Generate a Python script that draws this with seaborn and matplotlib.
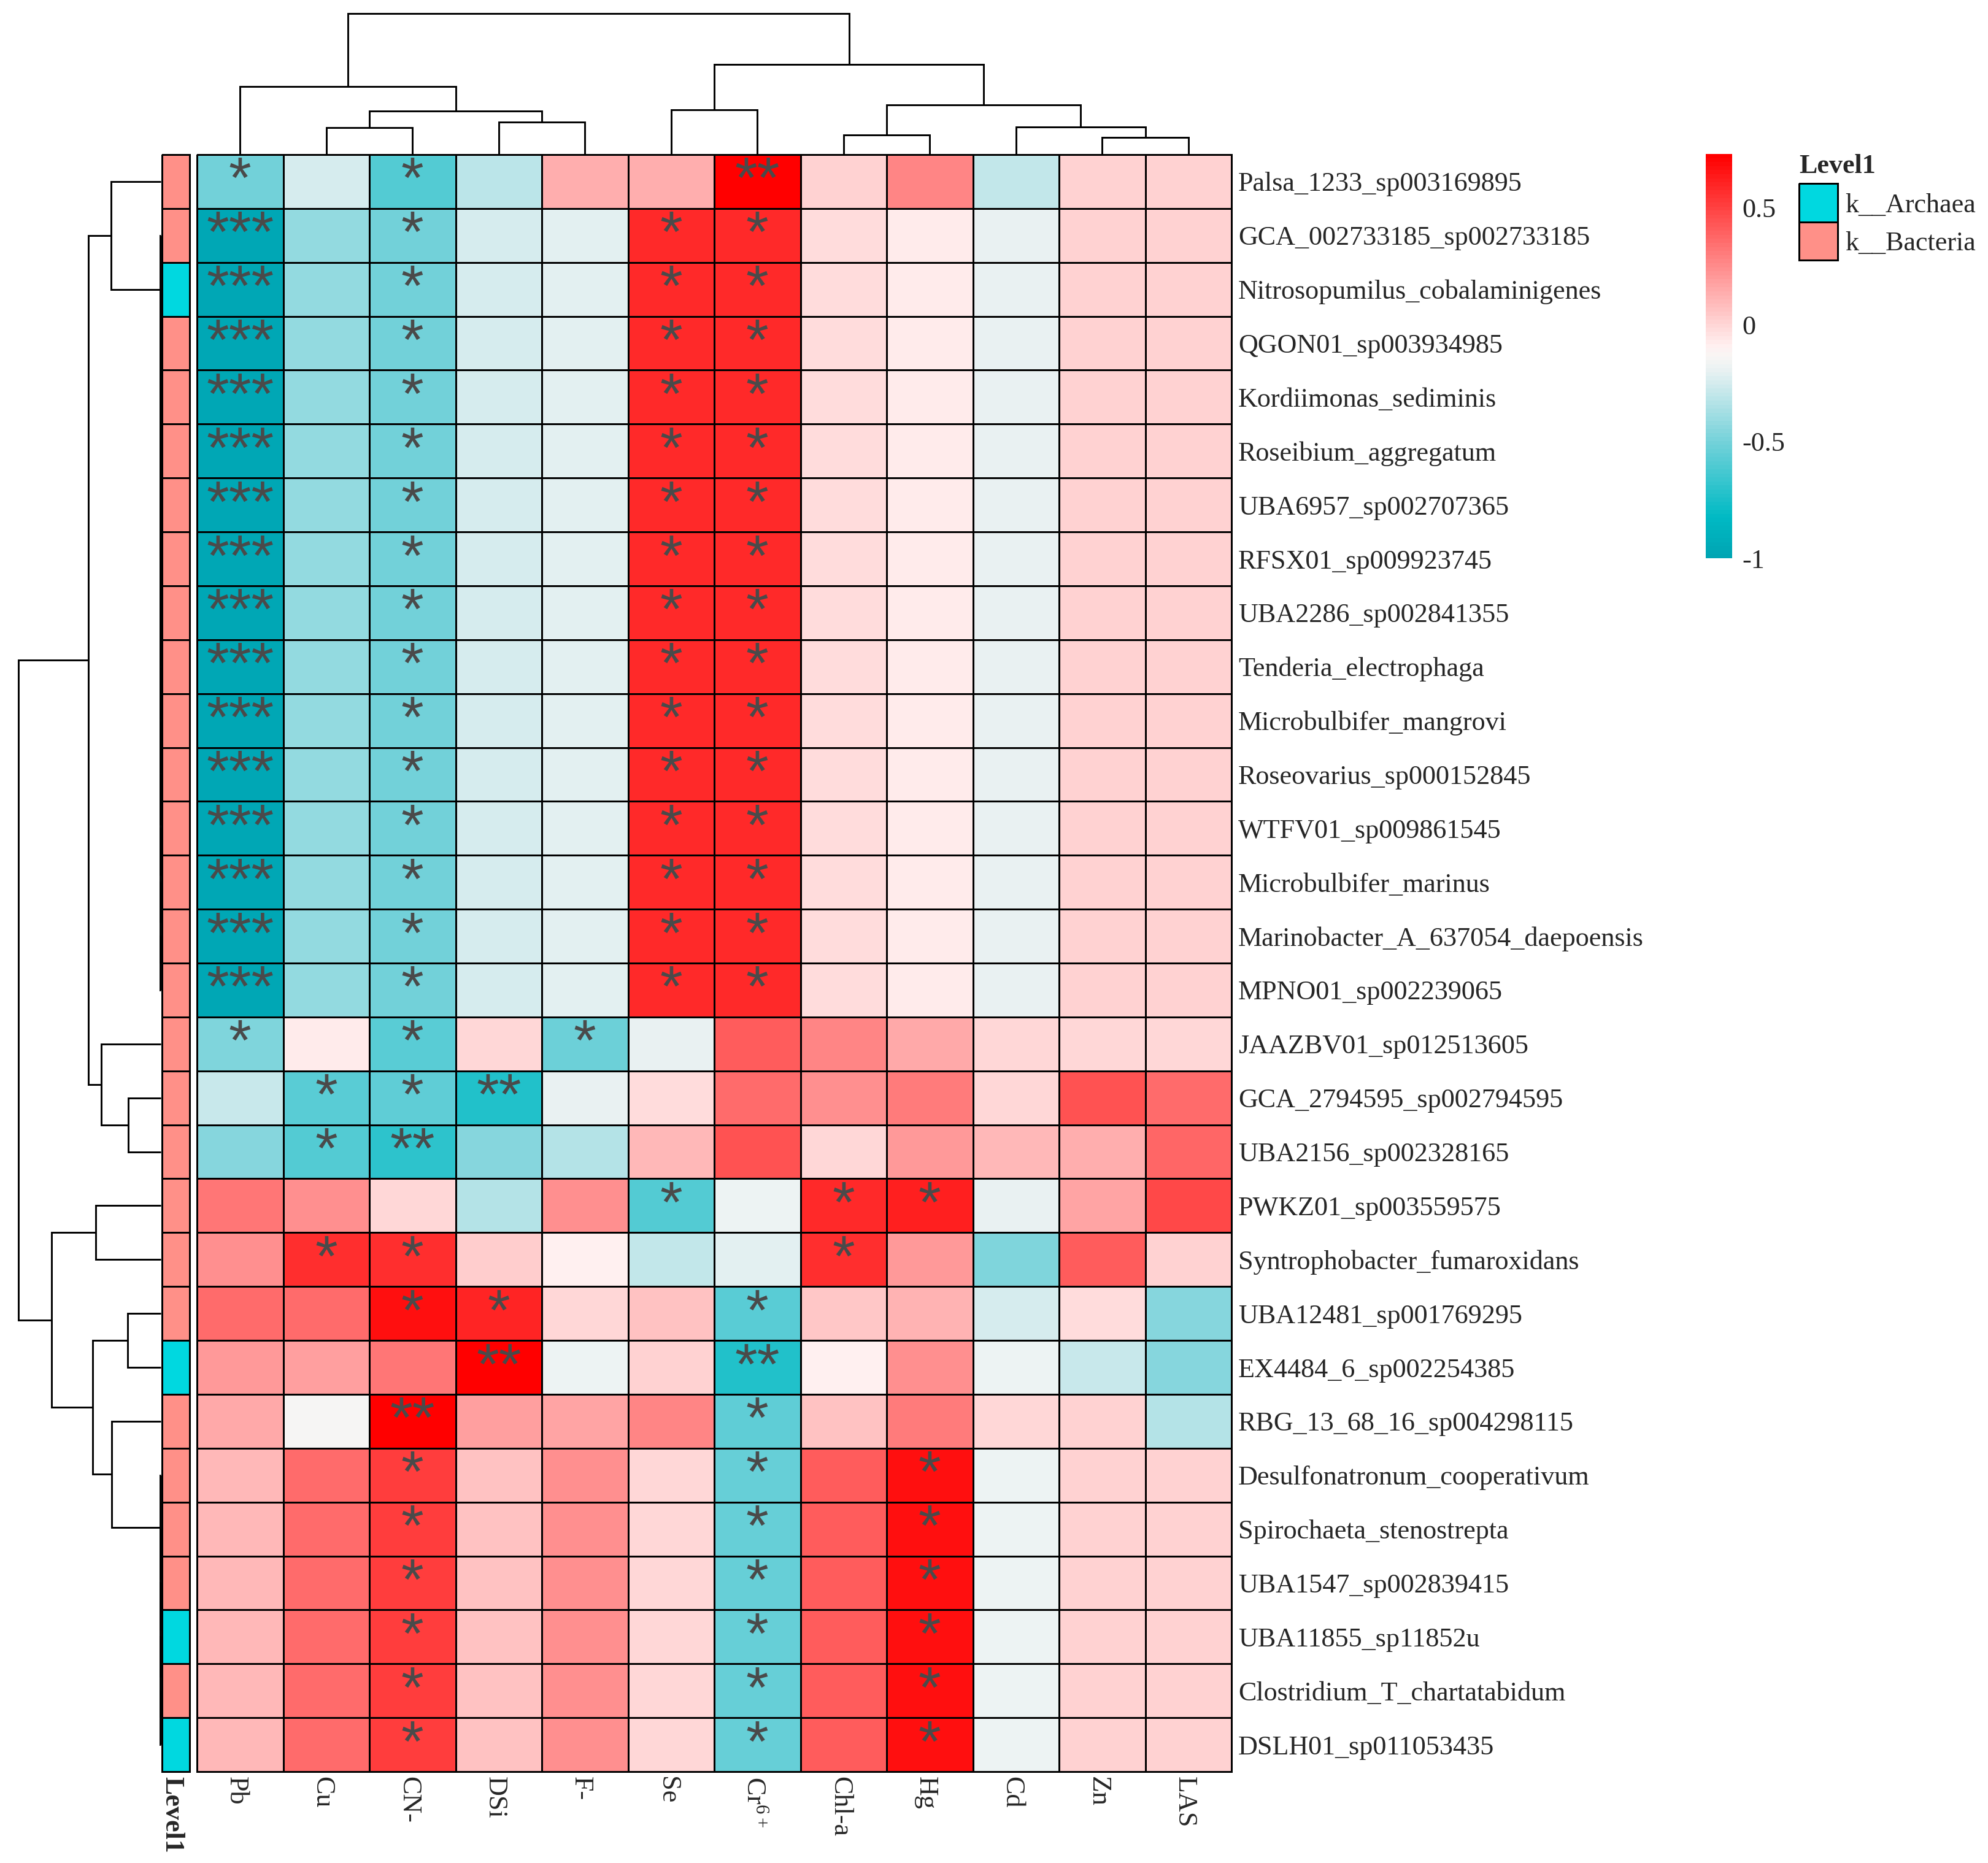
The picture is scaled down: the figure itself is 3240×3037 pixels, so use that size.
import numpy as np
import pandas as pd
import matplotlib
matplotlib.use("Agg")
import matplotlib.pyplot as plt
import seaborn as sns
from matplotlib.colors import LinearSegmentedColormap, ListedColormap
from matplotlib.transforms import ScaledTranslation

species = ["Palsa_1233_sp003169895", "GCA_002733185_sp002733185", "Nitrosopumilus_cobalaminigenes",
           "QGON01_sp003934985", "Kordiimonas_sediminis", "Roseibium_aggregatum", "UBA6957_sp002707365",
           "RFSX01_sp009923745", "UBA2286_sp002841355", "Tenderia_electrophaga", "Microbulbifer_mangrovi",
           "Roseovarius_sp000152845", "WTFV01_sp009861545", "Microbulbifer_marinus",
           "Marinobacter_A_637054_daepoensis", "MPNO01_sp002239065", "JAAZBV01_sp012513605",
           "GCA_2794595_sp002794595", "UBA2156_sp002328165", "PWKZ01_sp003559575",
           "Syntrophobacter_fumaroxidans", "UBA12481_sp001769295", "EX4484_6_sp002254385",
           "RBG_13_68_16_sp004298115", "Desulfonatronum_cooperativum", "Spirochaeta_stenostrepta",
           "UBA1547_sp002839415", "UBA11855_sp11852u", "Clostridium_T_chartatabidum", "DSLH01_sp011053435"]
factors = ["Pb", "Cu", "CN-", "DSi", "F-", "Se", "Cr$^{6+}$", "Chl-a", "Hg", "Cd", "Zn", "LAS"]

palsa = [-.50, -.24, -.60, -.31, .13, .13, .73, .02, .28, -.30, .02, .02]
block_a = [-.97, -.42, -.51, -.25, -.22, .585, .585, -.03, -.08, -.19, .02, .02]
jaazbv = [-.48, -.07, -.58, .0, -.53, -.19, .41, .27, .15, -.01, .0, .0]
gca2794 = [-.29, -.57, -.56, -.73, -.19, -.03, .35, .24, .31, .0, .44, .35]
uba2156 = [-.45, -.60, -.70, -.45, -.33, .10, .44, .0, .20, .09, .14, .38]
pwkz = [.33, .24, .0, -.33, .24, -.60, -.17, .585, .61, -.19, .16, .48]
syntro = [.24, .56, .57, .03, -.09, -.30, -.22, .56, .20, -.48, .41, .02]
uba12481 = [.35, .36, .67, .60, .0, .07, -.58, .05, .11, -.25, -.02, -.45]
ex4484 = [.20, .18, .33, .73, -.18, .02, -.73, -.09, .24, -.18, -.29, -.45]
rbg = [.15, -.15, .73, .19, .16, .27, -.56, .07, .30, -.01, .02, -.34]
block_b = [.09, .36, .52, .07, .24, .0, -.55, .41, .67, -.18, .02, .02]
rows = [palsa] + [block_a] * 15 + [jaazbv, gca2794, uba2156, pwkz, syntro, uba12481, ex4484, rbg] + [block_b] * 6

st_palsa = ["*", "", "*", "", "", "", "**", "", "", "", "", ""]
st_a = ["***", "", "*", "", "", "*", "*", "", "", "", "", ""]
st_jaa = ["*", "", "*", "", "*", "", "", "", "", "", "", ""]
st_gca = ["", "*", "*", "**", "", "", "", "", "", "", "", ""]
st_uba = ["", "*", "**", "", "", "", "", "", "", "", "", ""]
st_pwk = ["", "", "", "", "", "*", "", "*", "*", "", "", ""]
st_syn = ["", "*", "*", "", "", "", "", "*", "", "", "", ""]
st_124 = ["", "", "*", "*", "", "", "*", "", "", "", "", ""]
st_ex = ["", "", "", "**", "", "", "**", "", "", "", "", ""]
st_rbg = ["", "", "**", "", "", "", "*", "", "", "", "", ""]
st_b = ["", "", "*", "", "", "", "*", "", "*", "", "", ""]
stars = [st_palsa] + [st_a] * 15 + [st_jaa, st_gca, st_uba, st_pwk, st_syn, st_124, st_ex, st_rbg] + [st_b] * 6

level_names = ["k__Archaea", "k__Bacteria"]
level = [1, 1, 0, 1, 1, 1, 1, 1, 1, 1, 1, 1, 1, 1, 1, 1, 1, 1, 1, 1, 1, 1, 0, 1, 1, 1, 1, 0, 1, 0]
cbar_ticks = [-1, -.5, 0, .5]
cbar_labels = ["-1", "-0.5", "0", "0.5"]

# merge trees: (height, upper, lower), leaves are row / column indices
col_tree = (230, (111, 0, (71, (44, 1, 2), (53, 3, 4))),
            (147, (73, 5, 6), (81, (32, 7, 8), (45, 9, (28, 10, 11)))))


def ladder(first, last, h):
    return last if first == last else (h, first, ladder(first + 1, last, h))


row_tree = (232,
            (118, (81, 0, ladder(1, 15, 1.0)), (97, 16, (53, 17, 18))),
            (178, (106, 19, 20), (111, (54, 21, 22), (80, 23, ladder(24, 29, 1.0)))))

sns.set_theme(style="white")
plt.rcParams["font.family"] = ["Liberation Serif", "DejaVu Serif"]
plt.rcParams["mathtext.fontset"] = "custom"
plt.rcParams["mathtext.rm"] = "Liberation Serif"
plt.rcParams["mathtext.default"] = "regular"

W, H = 3240, 3037
fig = plt.figure(figsize=(W / 100, H / 100), dpi=100, facecolor="white")


def axes_px(x0, y0, x1, y1):
    return fig.add_axes([x0 / W, 1 - y1 / H, (x1 - x0) / W, (y1 - y0) / H])


vmin, vmax = -1.0, 0.73
pos = lambda v: (v - vmin) / (vmax - vmin)
cmap = LinearSegmentedColormap.from_list(
    "tealred",
    [(0, "#00A5B3"), (pos(-.83), "#00BAC4"), (pos(-.5), "#76D2DA"), (pos(-.2), "#E8F1F2"),
     (pos(-.137), "#F8F6F4"), (pos(-.09), "#FFF0F0"), (1, "#FF0000")], N=100)
level_cmap = ListedColormap(["#00D8E0", "#FF9088"])

GRID = 2.1
FS = 31.8
L, R, T, B = 321, 2007, 252, 2888
XSHIFT = ScaledTranslation(-6 / 100, 0, fig.dpi_scale_trans)

ax = axes_px(L, T, R, B)
cax = axes_px(2780, 251, 2823, 910)
df = pd.DataFrame(rows, index=species, columns=factors)
sns.heatmap(df, ax=ax, cmap=cmap, vmin=vmin, vmax=vmax, linewidths=GRID, linecolor="black",
            cbar_ax=cax, cbar_kws={"ticks": cbar_ticks}, xticklabels=True, yticklabels=True)
ax.collections[0].set_clip_on(False)
ax.yaxis.tick_right()
ax.tick_params(axis="y", length=0, pad=8, labelsize=FS, labelrotation=0)
ax.tick_params(axis="x", length=0, pad=6, labelsize=FS)
for t in ax.get_xticklabels():
    t.set_rotation(-90)
    t.set_ha("center")
    t.set_va("top")
    t.set_transform(t.get_transform() + XSHIFT)
for i, row in enumerate(stars):
    for j, s in enumerate(row):
        if s:
            ax.text(j + .5, i + .52, s, ha="center", va="center", fontsize=68,
                    family="Liberation Sans", color="#4A4A4A")

cax.set_yticklabels(cbar_labels)
cax.tick_params(axis="y", length=0, pad=12, labelsize=FS)
for sp in cax.spines.values():
    sp.set_visible(False)
fig.axes[1].collections[0].set_edgecolor("face")

# annotation bar
bax = axes_px(264, T, 309, B)
sns.heatmap(pd.DataFrame({"Level1": level}), ax=bax, cmap=level_cmap, vmin=0, vmax=1, cbar=False,
            linewidths=GRID, linecolor="black", xticklabels=True, yticklabels=False)
bax.collections[0].set_clip_on(False)
bax.tick_params(axis="x", length=0, pad=6, labelsize=FS)
for t in bax.get_xticklabels():
    t.set_rotation(-90)
    t.set_ha("center")
    t.set_va("top")
    t.set_fontweight("bold")
    t.set_transform(t.get_transform() + XSHIFT)
bax.set_xlabel("")
ax.set_xlabel("")
ax.set_ylabel("")


# dendrograms
def draw(axd, node, vertical):
    if not isinstance(node, tuple):
        return node + .5, 0
    h, a, b = node
    pa, ha = draw(axd, a, vertical)
    pb, hb = draw(axd, b, vertical)
    ps, hs = [pa, pa, pb, pb], [ha, h, h, hb]
    xs, ys = (hs, ps) if vertical else (ps, hs)
    axd.plot(xs, ys, color="black", lw=GRID, solid_joinstyle="miter", solid_capstyle="butt", clip_on=False)
    return (pa + pb) / 2, h


tax = axes_px(L, 0, R, T)
draw(tax, col_tree, False)
tax.set_xlim(0, 12)
tax.set_ylim(0, T)
tax.axis("off")

lax = axes_px(0, T, 262, B)
draw(lax, row_tree, True)
lax.set_ylim(30, 0)
lax.set_xlim(262, 0)
lax.axis("off")

# legend
gax = axes_px(2932, 299, 2995, 424)
sns.heatmap(pd.DataFrame({"Level1": [0, 1]}, index=level_names), ax=gax, cmap=level_cmap, vmin=0, vmax=1,
            cbar=False, linewidths=GRID, linecolor="black", xticklabels=False, yticklabels=True)
gax.collections[0].set_clip_on(False)
gax.yaxis.tick_right()
gax.tick_params(axis="y", length=0, pad=9, labelsize=FS, labelrotation=0)
gax.set_ylabel("")
gax.set_title("Level1", loc="left", fontsize=FS, fontweight="bold", pad=12)

fig.savefig("out.png", dpi=100, facecolor="white")
